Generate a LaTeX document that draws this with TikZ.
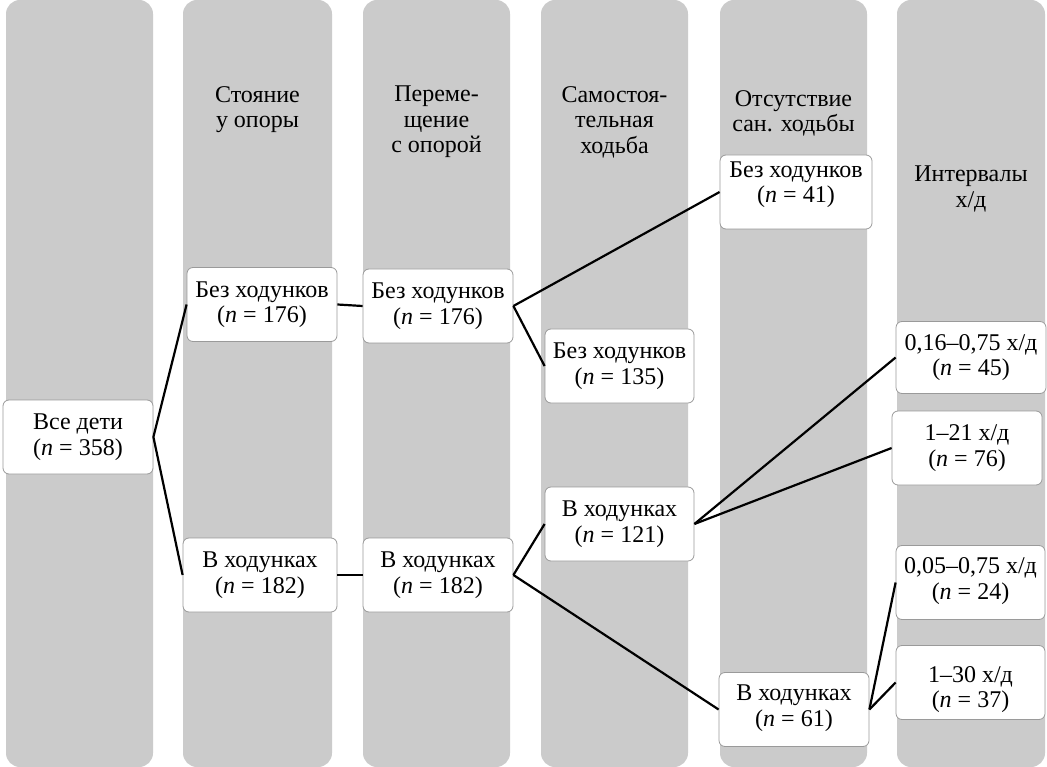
\documentclass[tikz,border=0pt]{standalone}
\usepackage{fontspec}
\setmainfont{Liberation Serif}
\definecolor{colgray}{HTML}{CBCBCB}
\definecolor{boxgray}{HTML}{9A9A9A}
\begin{document}
\begin{tikzpicture}[x=1pt,y=-1pt,
  every node/.style={font=\fontsize{24}{25.5}\selectfont},
  colbg/.style={fill=colgray, rounded corners=14pt},
  box/.style={draw=boxgray, line width=0.8pt, fill=white, rounded corners=6pt,
    minimum width=150pt, minimum height=74pt, align=center, inner sep=0pt},
  hdr/.style={align=center, anchor=north, inner sep=0pt},
  conn/.style={line width=2.2pt, black}]
\useasboundingbox (0,0) rectangle (1047,767);
% columns
\fill[colbg] (6,0) rectangle (153,767);
\fill[colbg] (183,0) rectangle (332,767);
\fill[colbg] (363,0) rectangle (510,767);
\fill[colbg] (541,0) rectangle (688,767);
\fill[colbg] (720,0) rectangle (867,767);
\fill[colbg] (897,0) rectangle (1045,767);
% headers
\node[hdr] (h2) at (257.5,86) {Стояние\\у опоры};
\node[hdr] (h3) at (436.5,86) {Переме-\\щение\\с опорой};
\node[hdr] (h4) at (614.5,86) {Самостоя-\\тельная\\ходьба};
\node[hdr] (h5) at (793.5,90) {Отсутствие\\сан. ходьбы};
\node[hdr] (h6) at (971,166) {Интервалы\\х/д};
% boxes
\node[box] (all) at (78,437) {Все дети\\(\textit{n} = 358)};
\node[box] (s1) at (262,304.5) {Без ходунков\\(\textit{n} = 176)};
\node[box, minimum width=154pt] (s2) at (260,575) {В ходунках\\(\textit{n} = 182)};
\node[box] (m1) at (438,306) {Без ходунков\\(\textit{n} = 176)};
\node[box] (m2) at (438,575) {В ходунках\\(\textit{n} = 182)};
\node[box, minimum width=149pt] (w1) at (619.5,366) {Без ходунков\\(\textit{n} = 135)};
\node[box, minimum width=149pt] (w2) at (619.5,524) {В ходунках\\(\textit{n} = 121)};
\node[box, minimum width=152pt] (a1) at (796,192) {Без ходунков\\(\textit{n} = 41)\rule[-20pt]{0pt}{20pt}};
\node[box] (a2) at (794,709.5) {В ходунках\\(\textit{n} = 61)\rule[-8pt]{0pt}{8pt}};
\node[box, minimum width=150pt, minimum height=72pt] (i1) at (971,357.5) {0,16–0,75 х/д\\(\textit{n} = 45)};
\node[box] (i2) at (967,448) {1–21 х/д\\(\textit{n} = 76)};
\node[box, minimum width=149pt] (i3) at (970.5,582.5) {0,05–0,75 х/д\\(\textit{n} = 24)\rule[-8pt]{0pt}{8pt}};
\node[box, minimum width=149pt] (i4) at (970.5,682.5) {\rule{0pt}{30pt}1–30 х/д\\(\textit{n} = 37)};
% connectors
\draw[conn] (all.east) -- (s1.west);
\draw[conn] (all.east) -- (s2.west);
\draw[conn] (s1.east) -- (m1.west);
\draw[conn] (s2.east) -- (m2.west);
\draw[conn] (m1.east) -- (a1.west);
\draw[conn] (m1.east) -- (w1.west);
\draw[conn] (m2.east) -- (w2.west);
\draw[conn] (m2.east) -- (a2.west);
\draw[conn] (w2.east) -- (i1.west);
\draw[conn] (w2.east) -- (i2.west);
\draw[conn] (a2.east) -- (i3.west);
\draw[conn] (a2.east) -- (i4.west);
\end{tikzpicture}
\end{document}
